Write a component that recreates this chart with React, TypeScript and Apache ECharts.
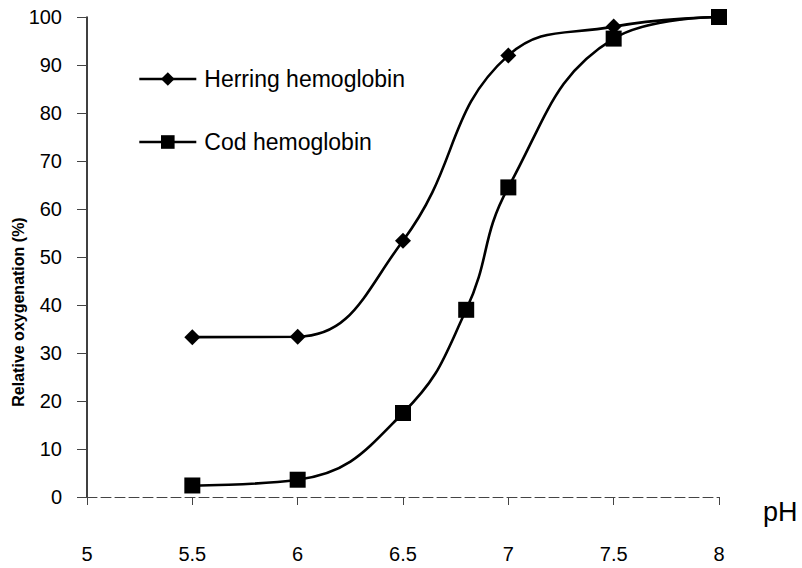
import React, { useEffect, useRef } from "react";
import * as echarts from "echarts";

const herringPH = [5.5, 6, 6.5, 7, 7.5, 8];
const herringValues = [33.3, 33.4, 53.4, 92, 98, 100];
const codPH = [5.5, 6, 6.5, 6.8, 7, 7.5, 8];
const codValues = [2.4, 3.6, 17.5, 39, 64.5, 95.5, 100];
const xTicks = [5, 5.5, 6, 6.5, 7, 7.5, 8];

export default function App() {
  const ref = useRef<HTMLDivElement>(null);
  useEffect(() => {
    if (!ref.current) return;
    const chart = echarts.init(ref.current, null, { renderer: "svg" });
    const font = "Liberation Sans, Arial, sans-serif";
    chart.setOption({
      animation: false,
      backgroundColor: "#ffffff",
      grid: { left: 87, right: 83, top: 17, bottom: 71 },
      legend: {
        orient: "vertical",
        left: 133,
        top: 61,
        itemWidth: 57,
        itemHeight: 17,
        itemGap: 37,
        lineStyle: { width: 2.6, color: "#000" },
        textStyle: {
          fontFamily: font,
          fontSize: 23,
          color: "#000",
          lineHeight: 26,
          padding: [0, 0, 0, 3],
        },
        data: ["Herring hemoglobin", "Cod hemoglobin"],
      },
      xAxis: {
        type: "value",
        min: 5,
        max: 8,
        interval: 0.5,
        axisLine: { show: true, lineStyle: { color: "#444", width: 1, type: [10, 4] } },
        axisTick: { show: true, length: 8, lineStyle: { color: "#444" } },
        axisLabel: {
          fontFamily: font,
          fontSize: 20,
          color: "#000",
          margin: 47,
          formatter: (v: number) => (xTicks.includes(v) ? String(v) : ""),
        },
        splitLine: { show: false },
      },
      yAxis: {
        type: "value",
        min: 0,
        max: 100,
        interval: 10,
        axisLine: { show: true, lineStyle: { color: "#000", width: 1.5 } },
        axisTick: { show: true, length: 10, lineStyle: { color: "#444" } },
        axisLabel: { fontFamily: font, fontSize: 20, color: "#000", margin: 25 },
        splitLine: { show: false },
      },
      graphic: [
        {
          type: "text",
          x: 18,
          y: 312,
          rotation: Math.PI / 2,
          style: {
            text: "Relative oxygenation (%)",
            fontFamily: font,
            fontSize: 16,
            fontWeight: "bold",
            fill: "#000",
            align: "center",
            verticalAlign: "middle",
          },
        },
        {
          type: "text",
          left: 763,
          top: 498,
          style: { text: "pH", fontFamily: font, fontSize: 27, fill: "#000" },
        },
      ],
      series: [
        {
          name: "Herring hemoglobin",
          type: "line",
          smooth: 0.45,
          data: herringPH.map((x, i) => [x, herringValues[i]]),
          symbol: "diamond",
          symbolSize: 16,
          itemStyle: { color: "#000" },
          lineStyle: { color: "#000", width: 2.6 },
        },
        {
          name: "Cod hemoglobin",
          type: "line",
          smooth: 0.45,
          data: codPH.map((x, i) => [x, codValues[i]]),
          symbol: "rect",
          symbolSize: 16,
          itemStyle: { color: "#000" },
          lineStyle: { color: "#000", width: 2.6 },
        },
      ],
    });
    return () => chart.dispose();
  }, []);
  return (
    <div
      ref={ref}
      style={{ position: "fixed", left: 0, top: 0, width: 802, height: 568 }}
    />
  );
}
